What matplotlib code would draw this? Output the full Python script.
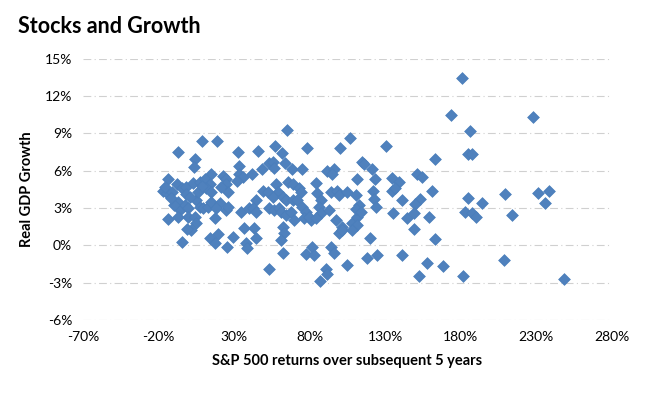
import matplotlib
matplotlib.use("Agg")
import matplotlib.pyplot as plt
from matplotlib.ticker import FuncFormatter, MultipleLocator

# S&P 500 returns over the next 5 years (%)
sp_returns = [
    8.6, 18.5, -6.9, 32.8, 4.3, 3.4, 45.6, 33.3, 33.0, 35.5, 31.7, 41.6, 22.9, 24.5, 24.3,
    14.6, -13.8, -17.1, -14.8, -8.2, -4.9, -1.6, 2.7, 7.1, 10.4, 13.7, 11.5, 14.8, 25.8, 21.4,
    -7.2, -6.1, -2.8, -0.6, 4.9, 7.1, 9.3, 12.6, 14.8, 20.3, 18.1, 24.7, 25.8, 34.6, 40.1,
    44.5, -13.8, -0.6, 3.8, 4.9, 17.0, 36.8, 43.4, 1.6, 19.2, 13.7, 17.0, 25.1, 29.5, 37.9,
    38.3, 44.5, -4.5, -16.0, -11.0, -10.0, -12.0, -2.0, 6.0, 9.0, 1.0, -7.0, -1.0,
    64.7, 57.2, 61.4, 77.9, 106.7, 100.1, 53.3, 55.9, 56.1, 63.8, 68.0, 74.6, 48.5, 91.7,
    96.1, 94.6, 48.8, 52.1, 57.7, 58.7, 55.4, 65.3, 68.6, 73.0, 74.2, 62.0, 64.3, 68.6,
    71.9, 84.0, 85.1, 87.3, 93.9, 98.3, 99.4, 104.9, 110.4, 111.5, 42.3, 44.5, 53.3, 56.6,
    59.9, 61.0, 64.3, 67.6, 75.2, 77.5, 76.3, 80.8, 79.6, 86.2, 87.3, 84.0, 92.8, 97.2,
    101.6, 108.2, 111.5, 69.7, 62.0, 63.2, 61.0, 99.4, 101.6, 81.8, 77.5, 82.9, 93.9, 96.1,
    62.0, 53.2, 90.6, 91.7, 104.9, 86.9,
    130.6, 163.2, 114.8, 115.9, 121.0, 123.1, 134.5, 139.4, 151.0, 154.3, 134.5, 136.3,
    121.8, 122.7, 124.0, 160.9, 141.1, 153.3, 150.0, 112.6, 110.4, 113.7, 135.0, 144.4,
    149.3, 158.7, 111.5, 107.8, 148.9, 119.8, 162.7, 118.1, 124.7, 141.1, 157.6, 168.2,
    152.1,
    180.7, 173.4, 228.0, 185.8, 184.6, 187.3, 185.1, 194.3, 209.0, 231.3, 238.7, 235.9,
    182.5, 187.3, 189.9, 214.1, 181.8, 208.4, 248.4,
]

# Real GDP growth (%), same order
gdp_growth = [
    8.4, 8.4, 7.5, 7.5, 6.9, 6.3, 7.6, 6.4, 5.7, 5.5, 5.2, 5.7, 5.6, 5.3, 4.9,
    5.7, 5.3, 4.4, 4.2, 4.9, 4.6, 4.7, 5.0, 5.1, 5.3, 4.9, 4.6, 4.3, 4.3, 4.7,
    3.5, 2.8, 3.2, 3.0, 3.6, 3.1, 3.0, 3.1, 3.5, 3.4, 3.0, 2.8, 3.1, 2.7, 3.0,
    3.6, 2.1, 2.3, 2.3, 1.8, 2.2, 1.4, 1.4, 1.2, 0.9, 0.6, 0.2, -0.1, 0.7, 0.2,
    -0.2, 0.6, 0.3, 4.7, 4.3, 3.2, 3.8, 4.1, 4.3, 4.8, 3.9, 2.3, 1.3,
    9.3, 8.0, 7.4, 7.8, 8.6, 7.8, 6.6, 6.7, 6.2, 6.6, 6.1, 6.1, 6.1, 6.0,
    6.1, 5.7, 4.4, 4.3, 4.9, 4.3, 3.9, 5.1, 4.9, 4.6, 4.3, 3.9, 3.6, 3.6,
    3.6, 5.0, 4.2, 3.6, 4.3, 4.4, 4.0, 4.3, 4.0, 5.3, 3.0, 2.7, 3.0, 2.8,
    3.0, 2.7, 2.4, 2.7, 3.1, 2.7, 2.2, 2.0, 2.3, 3.1, 2.6, 2.2, 2.8, 2.0,
    1.5, 1.8, 2.3, 2.0, 1.5, 1.0, 0.4, 1.0, 1.2, -0.1, -0.7, -0.8, -0.1, -0.6,
    -0.6, -1.9, -1.9, -2.3, -1.6, -2.9,
    8.0, 6.9, 6.7, 6.5, 6.1, 5.3, 5.4, 5.1, 5.7, 5.5, 4.4, 4.6,
    4.4, 3.7, 3.1, 4.4, 3.6, 3.7, 3.3, 3.2, 2.9, 2.7, 2.6, 2.2,
    2.6, 2.3, 1.6, 1.2, 1.3, 0.6, 0.5, -1.0, -0.8, -0.8, -1.4, -1.7,
    -2.5,
    13.4, 10.5, 10.3, 9.2, 7.3, 7.3, 3.8, 3.4, 4.1, 4.2, 4.4, 3.4,
    2.7, 2.6, 2.3, 2.4, -2.5, -1.2, -2.7,
]

x_ticks = [-70, -20, 30, 80, 130, 180, 230, 280]

plt.rcParams['font.family'] = ['Lato', 'DejaVu Sans']

fig = plt.figure(figsize=(6.55, 4.01), dpi=100)
ax = fig.add_axes([0.127, 0.202, 0.807, 0.652])

ax.scatter(sp_returns, gdp_growth, marker='D', s=36, color='#4F81BD',
           edgecolors='#4A7EBB', linewidths=0.5, zorder=3)

ax.set_xlim(-70, 280)
ax.set_ylim(-6, 15)
ax.set_xticks(x_ticks)
ax.yaxis.set_major_locator(MultipleLocator(3))
ax.xaxis.set_major_formatter(FuncFormatter(lambda v, p: f'{v:.0f}%'))
ax.yaxis.set_major_formatter(FuncFormatter(lambda v, p: f'{v:.0f}%'))

ax.grid(axis='y', color='#D0D0D0', linestyle=(0, (7, 3, 1, 3)), linewidth=0.8, zorder=0)
for s in ax.spines.values():
    s.set_visible(False)
ax.tick_params(length=0, labelsize=10, colors='#000000', pad=8)

ax.set_xlabel('S&P 500 returns over subsequent 5 years', fontsize=10.5,
              fontweight='bold', labelpad=8)
ax.set_ylabel('Real GDP Growth', fontsize=10.5, fontweight='bold', labelpad=8)

fig.text(0.027, 0.935, 'Stocks and Growth', fontsize=15.5, fontweight='bold',
         va='center', ha='left')

fig.savefig('out.png', dpi=100)
